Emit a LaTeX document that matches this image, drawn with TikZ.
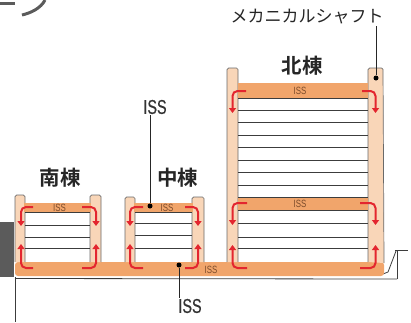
\documentclass[tikz,border=0pt]{standalone}
\usepackage{fontspec}
\newfontfamily\jpfont{Noto Sans CJK JP}
\newfontfamily\jpboldfont{Noto Sans CJK JP Bold}
\newfontfamily\narrowfont[FakeStretch=0.75]{Liberation Sans}
\newfontfamily\issfont[FakeStretch=0.72,FakeBold=0.6]{Liberation Sans}
\usetikzlibrary{arrows.meta}
\definecolor{colfill}{HTML}{F9D6B8}
\definecolor{slabfill}{HTML}{F1A56B}
\definecolor{flowred}{HTML}{E3262F}
\definecolor{sketch}{HTML}{6A6A6A}
\definecolor{floorline}{HTML}{3C3C3C}
\definecolor{darkblock}{HTML}{5B5B5B}
\definecolor{isstext}{HTML}{7B4B2B}
\begin{document}
\begin{tikzpicture}[x=1pt,y=-1pt,
  column/.style={fill=colfill,draw=sketch,line width=0.7pt,rounded corners=1.5pt},
  floor/.style={draw=floorline,line width=0.9pt},
  flow/.style={draw=flowred,line width=2pt,rounded corners=5pt,-{Triangle[length=5pt,width=7pt]}},
  leader/.style={draw=black!85,line width=0.8pt},
  dot/.style={circle,fill=black,inner sep=0pt,minimum size=5pt},
  jp/.style={font=\jpboldfont\fontsize{20.5}{21}\selectfont,text=black!85,inner sep=1pt},
  jpsmall/.style={font=\jpfont\fontsize{17}{17}\selectfont,text=black!85,inner sep=1pt},
  isslabel/.style={font=\issfont\fontsize{20}{20}\selectfont,text=black!80,inner sep=1pt},
  issin/.style={font=\narrowfont\fontsize{10.5}{10.5}\selectfont,text=isstext,inner sep=0pt},
  logo/.style={draw=darkblock,line width=3pt},
  ground/.style={draw=floorline,line width=0.8pt}]
\useasboundingbox (0,0) rectangle (411,322);

% fragment of the heading mark
\draw[logo] (0,3) -- (15,3);
\draw[logo] (22,15) .. controls (31,13) and (41,8) .. (45,0);

% neighbouring block and boundary line on the left
\fill[darkblock] (0,222) rectangle (14,277);
\draw[ground] (15,277) -- (15,322);

% ground line and retaining structure on the right
\draw[ground] (15,278.5) -- (397,279);
\draw[ground] (397,250) -- (397,279);
\draw[ground] (395,250) -- (408,250);
\draw[ground] (396,251) -- (388,272) -- (383,274);

% base ISS slab
\fill[slabfill,rounded corners=3pt] (15,262) rectangle (384,276);

% ---- south block ----
\draw[column] (15,262) -- (15,195) -- (25,195) -- (25,262);
\draw[column] (90,262) -- (90,195) -- (101,195) -- (101,262);
\fill[slabfill] (24,203) rectangle (91,212);
\foreach \y in {212,225,237,248} \draw[floor] (25,\y) -- (90,\y);

% ---- middle block ----
\draw[column] (125,262) -- (125,197) -- (135,197) -- (135,262);
\draw[column] (192,262) -- (192,197) -- (204,197) -- (204,262);
\fill[slabfill] (134,203) rectangle (193,212);
\foreach \y in {212,223,235,248} \draw[floor] (135,\y) -- (192,\y);

% ---- north block ----
\draw[column] (227,262) -- (227,68) -- (238,68) -- (238,262);
\draw[column] (368,262) -- (368,68) -- (383,68) -- (384,263);
\fill[slabfill] (238,83) rectangle (368,98);
\fill[slabfill] (238,197) rectangle (368,210);
\foreach \y in {98,110,122.5,135,147.5,160,172.5,185,197,210,223,237,248}
  \draw[floor] (238,\y) -- (368,\y);

% small ISS marks inside the slabs
\node[issin] (issS) at (59.5,207.5) {ISS};
\node[issin] (issM) at (167,207.5) {ISS};
\node[issin] (issNt) at (300,90.5) {ISS};
\node[issin] (issNm) at (300,204) {ISS};
\node[issin] (issB) at (211,269.5) {ISS};

% air flow arrows: south block
\draw[flow] (33,207) -| (21,226);
\draw[flow] (82,207) -| (96,226);
\draw[flow] (33,268) -| (21,244);
\draw[flow] (82,268) -| (96,244);
% middle block
\draw[flow] (143,207) -| (130,226);
\draw[flow] (185,207) -| (198,226);
\draw[flow] (143,268) -| (130,244);
\draw[flow] (185,268) -| (198,244);
% north block
\draw[flow] (246,91) -| (232.5,113);
\draw[flow] (362,91) -| (375.5,113);
\draw[flow] (247,203) -| (232.5,225);
\draw[flow] (360,203) -| (375.5,225);
\draw[flow] (247,268) -| (232.5,245);
\draw[flow] (360,268) -| (375.5,245);

% block names
\node[jp] (south) at (60,178) {南棟};
\node[jp] (middle) at (177.5,178) {中棟};
\node[jp] (north) at (302,66) {北棟};

% callouts
\node[jpsmall] (mech) at (307,17) {メカニカルシャフト};
\node[dot] (dmech) at (376,78) {};
\draw[leader] (dmech) -- (dmech |- mech.south);

\node[isslabel] (issTop) at (155,107) {ISS};
\node[dot] (dtop) at (150,206) {};
\draw[leader] (dtop) -- (dtop |- issTop.south);

\node[isslabel] (issBot) at (190,306) {ISS};
\node[dot] (dbot) at (179,265) {};
\draw[leader] (dbot) -- (dbot |- issBot.north);
\end{tikzpicture}
\end{document}
